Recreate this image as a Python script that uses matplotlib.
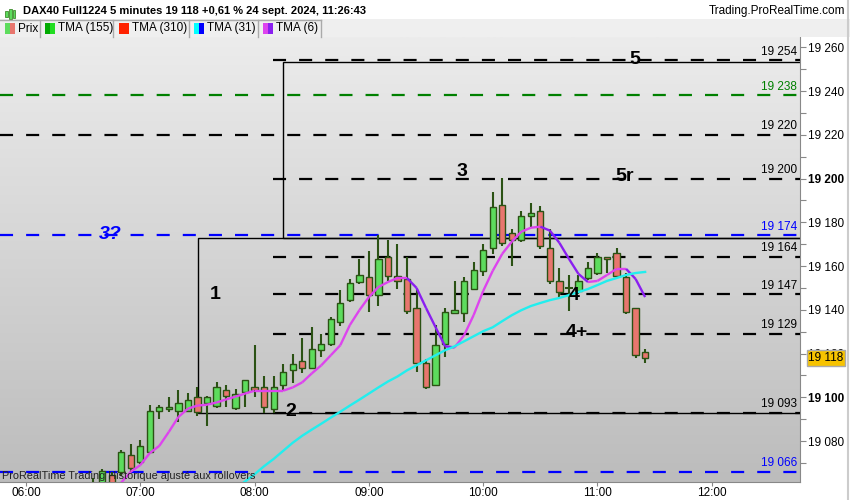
import numpy as np
import matplotlib
matplotlib.use("Agg")
import matplotlib.pyplot as plt
from matplotlib.patches import Rectangle
from matplotlib.collections import LineCollection
from matplotlib.colors import LinearSegmentedColormap

plt.rcParams["font.family"] = ["Liberation Sans", "DejaVu Sans"]
plt.rcParams["lines.scale_dashes"] = False

# 5-minute candles, first one at 06:35 (minutes after 06:00)
start_min = 35
opens = [19059, 19058, 19064.5, 19066, 19073.7, 19070.4, 19075, 19093.9, 19094.8, 19093.9,
         19093.9, 19099.9, 19097.6, 19096.2, 19103.1, 19095.3, 19102.2, 19104.9, 19104.9, 19094.8,
         19105.5, 19112.6, 19116.7, 19113.5, 19121.8, 19124.5, 19134.5, 19144.6, 19152.9, 19154.9,
         19146.9, 19164, 19155.6, 19154, 19140.8, 19115.8, 19105.8, 19124.5, 19138.6, 19138.6,
         19149.5, 19157.9, 19168.2, 19188.1, 19175, 19171.7, 19182.9, 19185.2, 19168.2, 19153,
         19150, 19148.5, 19154.5, 19156.7, 19164.1, 19165.9, 19154.9, 19140.6, 19120.9]
highs = [19063, 19067, 19066, 19076, 19078.7, 19080.5, 19096.6, 19096.6, 19099.9, 19103.5,
         19102, 19104.9, 19100.5, 19106.8, 19105.8, 19103.9, 19108, 19123.8, 19109.6, 19109.6,
         19115, 19119.6, 19127, 19132, 19128.8, 19136.9, 19149, 19154, 19163.3, 19166.8,
         19174.3, 19172, 19170.2, 19164.3, 19149.4, 19117.6, 19133, 19140.6, 19153, 19154.9,
         19161.8, 19170.2, 19194, 19200.4, 19177, 19185, 19189, 19187.5, 19177, 19159.1,
         19155.9, 19155.9, 19162, 19165.9, 19164.3, 19168.3, 19156.7, 19140.8, 19121.9]
lows = [19052, 19055, 19058, 19064, 19066, 19069.5, 19074.5, 19090, 19093.4, 19088.8,
        19093.5, 19091.6, 19087, 19095, 19095.7, 19094.4, 19095.7, 19100, 19092.9, 19092.9,
        19102.8, 19106.6, 19110.9, 19113, 19118.4, 19123.4, 19132.6, 19143.7, 19151.8, 19138.8,
        19141.8, 19153, 19149.5, 19138, 19111.5, 19104, 19105, 19118.5, 19138, 19134.5,
        19149, 19155.6, 19165.6, 19169, 19159.9, 19171, 19177.8, 19167.9, 19152, 19145.7,
        19139.5, 19147, 19153.6, 19156, 19156.7, 19155, 19138, 19118, 19115.8]
closes = [19055, 19066.5, 19061, 19075, 19067.7, 19077.8, 19093.9, 19095.7, 19095.7, 19097.5,
          19098.9, 19093.4, 19099.9, 19104.9, 19100.8, 19101.7, 19107.7, 19103.1, 19095.7, 19104.9,
          19111.7, 19115, 19113.5, 19121.9, 19124.5, 19135.7, 19143, 19152.3, 19155.9, 19146.9,
          19163.3, 19155.6, 19153, 19139.5, 19115.8, 19104.8, 19123.8, 19138.8, 19139.7, 19153,
          19158.2, 19167.1, 19187, 19170.6, 19171.9, 19182.9, 19184.4, 19169.1, 19153, 19148,
          19150.2, 19153, 19159, 19164, 19163, 19155.6, 19138.8, 19119.2, 19118]

tma6 = [19046, 19050, 19055, 19061, 19066, 19069, 19074.5, 19077.8, 19084.2, 19091,
        19094.8, 19096.2, 19096.6, 19097.6, 19099, 19100.3, 19101.7, 19103, 19103, 19103,
        19103, 19104.5, 19106.8, 19110.9, 19114.6, 19119.2, 19123.8, 19133, 19139.8, 19145.8,
        19150.4, 19152.7, 19154.5, 19154.5, 19150, 19140.8, 19132, 19123.3, 19122.8, 19128.4,
        19137.6, 19148.6, 19157.8, 19165.6, 19171.1, 19175.7, 19177.5, 19178, 19176.2, 19170.6,
        19163.3, 19156.4, 19152.7, 19153.2, 19155.9, 19158.7, 19158.7, 19154.1, 19145.8]
tma31 = [np.nan, np.nan, np.nan, np.nan, np.nan, np.nan, np.nan, np.nan, np.nan, np.nan,
         np.nan, 19047, 19050, 19052.5, 19055.5, 19058.5, 19061.5, 19064.8, 19068.5, 19071.8,
         19075.5, 19079.2, 19082.4, 19085.2, 19087.9, 19090.7, 19093.4, 19096.2, 19098.9, 19101.7,
         19104.5, 19107.2, 19109.5, 19112.3, 19114.6, 19116.9, 19119.2, 19121.5, 19123.3, 19125.6,
         19127.9, 19130.2, 19132, 19134.8, 19137.5, 19139.8, 19141.7, 19143.1, 19144.4, 19145.4,
         19146.7, 19148.1, 19149.5, 19151.3, 19153.2, 19154.5, 19155.9, 19156.8, 19157.3]

# horizontal levels
level_prices = [19254, 19238, 19220, 19200, 19174, 19164, 19147, 19129, 19093, 19066]
level_colors = ["black", "#008000", "black", "black", "#0000ff", "black", "black", "black", "black", "#0000ff"]
level_full = [False, True, True, False, True, False, False, False, False, True]

last_price = 19118
hour_labels = ["06:00", "07:00", "08:00", "09:00", "10:00", "11:00", "12:00"]

x = start_min + 5 * np.arange(len(opens))

fig = plt.figure(figsize=(8.5, 5), dpi=100)
ax = fig.add_axes([0, 1 - 481.7 / 500, 800 / 850, 444.7 / 500])

bg = LinearSegmentedColormap.from_list("bg", ["#ececec", "#bcbcbc"])
ax.imshow(np.linspace(0, 1, 256).reshape(-1, 1), cmap=bg, extent=[0, 1, 0, 1],
          transform=ax.transAxes, aspect="auto", zorder=0)

xmin, xmax = -13.65, 406.3
ax.set_xlim(xmin, xmax)
ax.set_ylim(19061.4, 19264.7)
ax.set_autoscale_on(False)

# boxes
ax.add_patch(Rectangle((90.5, 19093), xmax - 90.5 + 5, 19172.7 - 19093, fill=False,
                       edgecolor="black", lw=1, zorder=2))
ax.add_patch(Rectangle((135.0, 19172.7), xmax - 135.0 + 5, 19254 - 19172.7 - 0.6, fill=False,
                       edgecolor="black", lw=1, zorder=2))

# level lines
for p, c, full in zip(level_prices, level_colors, level_full):
    x0 = xmin if full else 129.7
    ax.plot([x0, xmax], [p, p], color=c, lw=1.6, ls=(0, (9.4, 9.4)), zorder=3)
    ax.annotate(f"{p:,}".replace(",", " "), xy=(0.996, p), xycoords=("axes fraction", "data"),
                xytext=(0, 2), textcoords="offset points", ha="right", va="bottom",
                fontsize=8.5, color=c, zorder=6)

# candles
edge = "#2b5214"
w = 3.3
for xi, o, h, l, c in zip(x, opens, highs, lows, closes):
    ax.plot([xi, xi], [l, h], color=edge, lw=1.5, zorder=4, solid_capstyle="butt")
    col = "#5ddc5d" if c >= o else "#e8766e"
    lo, hi = min(o, c), max(o, c)
    if hi - lo < 0.6:
        ax.plot([xi - w / 2, xi + w / 2], [o, o], color=edge, lw=1.5, zorder=5)
    else:
        ax.add_patch(Rectangle((xi - w / 2, lo), w, hi - lo, facecolor=col,
                               edgecolor=edge, lw=1, zorder=5))

# moving averages
t6 = np.array(tma6)
pts = np.column_stack([x, t6]).reshape(-1, 1, 2)
segs = np.concatenate([pts[:-1], pts[1:]], axis=1)
cols = ["#dd44ee" if d >= 0 else "#8a1ff0" for d in np.diff(t6)]
ax.add_collection(LineCollection(segs, colors=cols, lw=1.7, zorder=6))
ax.plot(x, tma31, color="#22eeee", lw=1.7, zorder=6)

# labels on chart
lab = dict(fontsize=14, fontweight="bold", ha="center", va="center", zorder=7)
ax.text(319.7, 19254.5, "5", **lab)
ax.text(228.9, 19203, "3", **lab)
ax.text(314.4, 19201, "5r", **lab)
ax.text(99.2, 19146.8, "1", **lab)
ax.text(139.1, 19093.7, "2", **lab)
ax.text(287.7, 19146.5, "4", **lab)
ax.text(289.2, 19129.4, "4+", **lab)
ax.text(44.1, 19174.2, "3?", fontsize=14, fontweight="bold", style="italic",
        color="#0000ff", ha="center", va="center", zorder=7)

ax.text(0.003, 0.006, "ProRealTime Trading Historique ajusté aux rollovers",
        transform=ax.transAxes, fontsize=7.8, color="#222222", va="baseline", ha="left", zorder=8)

# axes
ax.yaxis.tick_right()
ax.set_yticks(np.arange(19080, 19261, 20))
ax.set_yticks(np.arange(19070, 19261, 10), minor=True)
ax.set_yticklabels([f"{v:,}".replace(",", " ") for v in range(19080, 19261, 20)])
for t in ax.get_yticklabels():
    if t.get_text() in ("19 100", "19 200"):
        t.set_fontweight("bold")
        t.set_fontsize(10)
ax.tick_params(axis="y", which="both", direction="out", length=4, width=0.8,
               color="#888888", labelsize=8.5, pad=2)
ax.set_xticks(np.arange(0, 361, 60))
ax.set_xticklabels(hour_labels)
ax.tick_params(axis="x", direction="out", length=3, width=0.8, color="#888888",
               labelsize=8.5, pad=1)
for s in ["top", "left"]:
    ax.spines[s].set_visible(False)
for s in ["right", "bottom"]:
    ax.spines[s].set_color("#888888")

ax.annotate(f"{last_price:,}".replace(",", " "), xy=(1.0, last_price),
            xycoords=("axes fraction", "data"), xytext=(6, 0), textcoords="offset points",
            ha="left", va="center", fontsize=8.5, annotation_clip=False, zorder=10,
            bbox=dict(boxstyle="square,pad=0.15", facecolor="#f7c300", edgecolor="#aaaaaa"))

# header
fig.patches.append(Rectangle((0, 1 - 37 / 500), 1, 18 / 500, transform=fig.transFigure,
                             facecolor="#efefef", edgecolor="none"))
fig.text(23 / 850, 1 - 11 / 500, "DAX40 Full1224 5 minutes 19 118 +0,61 % 24 sept. 2024, 11:26:43",
         fontsize=8, fontweight="bold", va="center", ha="left")
fig.text(845 / 850, 1 - 11 / 500, "Trading.ProRealTime.com", fontsize=8.5, va="center", ha="right")
for xs, hgt in [(5, 6), (9, 10), (13, 8)]:
    fig.patches.append(Rectangle((xs / 850, 1 - (14 + hgt / 2) / 500), 2.5 / 850, hgt / 500,
                                 transform=fig.transFigure, facecolor="#5ddc5d", edgecolor="#2b7a14", lw=0.5))

seps = [40, 113, 189, 258, 321]
for s in seps:
    fig.add_artist(plt.Line2D([s / 850, s / 850], [1 - 37 / 500, 1 - 20 / 500],
                              transform=fig.transFigure, color="#aaaaaa", lw=1))
fig.add_artist(plt.Line2D([0, 321 / 850], [1 - 20 / 500, 1 - 20 / 500],
                          transform=fig.transFigure, color="#aaaaaa", lw=1))
fig.add_artist(plt.Line2D([848 / 850, 848 / 850], [0, 1], transform=fig.transFigure,
                          color="#cccccc", lw=1.5))

legend_items = [("Prix", 5, "#5ddc5d", "#e8766e"),
                ("TMA (155)", 45, "#00aa00", "#22dd22"),
                ("TMA (310)", 119, "#ff2200", "#ff2200"),
                ("TMA (31)", 194, "#00ffff", "#0000ff"),
                ("TMA (6)", 263, "#dd44ee", "#8a1ff0")]
for name, xs, c1, c2 in legend_items:
    fig.patches.append(Rectangle((xs / 850, 1 - 34 / 500), 5 / 850, 11 / 500,
                                 transform=fig.transFigure, facecolor=c1, edgecolor="none"))
    fig.patches.append(Rectangle(((xs + 5) / 850, 1 - 34 / 500), 5 / 850, 11 / 500,
                                 transform=fig.transFigure, facecolor=c2, edgecolor="none"))
    fig.text((xs + 13) / 850, 1 - 28.5 / 500, name, fontsize=8.5, va="center", ha="left")

fig.savefig("out.png", dpi=100)
